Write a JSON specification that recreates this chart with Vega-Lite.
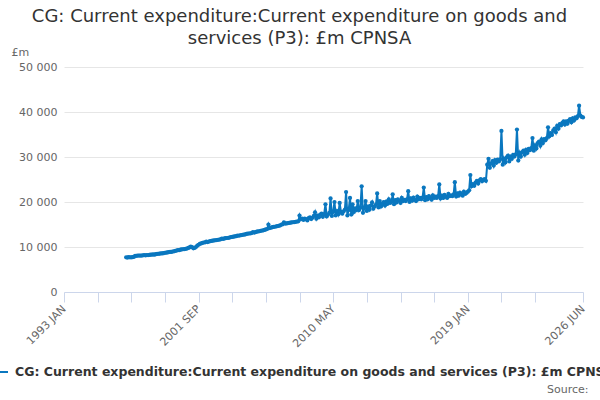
{
  "$schema": "https://vega.github.io/schema/vega-lite/v6.json",
  "description": "CG: Current expenditure on goods and services (P3), £m CPNSA, monthly",
  "autosize": {"type": "none"},
  "width": 519,
  "height": 225,
  "padding": {"left": 64, "top": 67, "right": 17, "bottom": 108},
  "title": {
    "text": ["CG: Current expenditure:Current expenditure on goods and", "services (P3): £m CPNSA"],
    "font": "DejaVu Sans",
    "fontSize": 18,
    "fontWeight": "normal",
    "color": "#333333",
    "anchor": "middle",
    "dx": -24,
    "dy": 6,
    "lineHeight": 22
  },
  "data": {
    "values": [
      {"d": "1997-01", "v": 7700}, {"d": "1997-02", "v": 7650}, {"d": "1997-03", "v": 7750}, {"d": "1997-04", "v": 7700},
      {"d": "1997-05", "v": 7700}, {"d": "1997-06", "v": 7750}, {"d": "1997-07", "v": 7800}, {"d": "1997-08", "v": 8050},
      {"d": "1997-09", "v": 8050}, {"d": "1997-10", "v": 8100}, {"d": "1997-11", "v": 8100}, {"d": "1997-12", "v": 8100},
      {"d": "1998-01", "v": 8100}, {"d": "1998-02", "v": 8150}, {"d": "1998-03", "v": 8200}, {"d": "1998-04", "v": 8150},
      {"d": "1998-05", "v": 8200}, {"d": "1998-06", "v": 8200}, {"d": "1998-07", "v": 8250}, {"d": "1998-08", "v": 8300},
      {"d": "1998-09", "v": 8300}, {"d": "1998-10", "v": 8350}, {"d": "1998-11", "v": 8300}, {"d": "1998-12", "v": 8400},
      {"d": "1999-01", "v": 8450}, {"d": "1999-02", "v": 8500}, {"d": "1999-03", "v": 8550}, {"d": "1999-04", "v": 8600},
      {"d": "1999-05", "v": 8600}, {"d": "1999-06", "v": 8650}, {"d": "1999-07", "v": 8700}, {"d": "1999-08", "v": 8750},
      {"d": "1999-09", "v": 8800}, {"d": "1999-10", "v": 8850}, {"d": "1999-11", "v": 8900}, {"d": "1999-12", "v": 8900},
      {"d": "2000-01", "v": 9000}, {"d": "2000-02", "v": 9050}, {"d": "2000-03", "v": 9150}, {"d": "2000-04", "v": 9200},
      {"d": "2000-05", "v": 9300}, {"d": "2000-06", "v": 9300}, {"d": "2000-07", "v": 9400}, {"d": "2000-08", "v": 9450},
      {"d": "2000-09", "v": 9500}, {"d": "2000-10", "v": 9550}, {"d": "2000-11", "v": 9600}, {"d": "2000-12", "v": 9650},
      {"d": "2001-01", "v": 9800}, {"d": "2001-02", "v": 9900}, {"d": "2001-03", "v": 10100}, {"d": "2001-04", "v": 9950},
      {"d": "2001-05", "v": 9700}, {"d": "2001-06", "v": 9800}, {"d": "2001-07", "v": 10000}, {"d": "2001-08", "v": 10300},
      {"d": "2001-09", "v": 10500}, {"d": "2001-10", "v": 10700}, {"d": "2001-11", "v": 10800}, {"d": "2001-12", "v": 10900},
      {"d": "2002-01", "v": 11000}, {"d": "2002-02", "v": 11050}, {"d": "2002-03", "v": 11200}, {"d": "2002-04", "v": 11100},
      {"d": "2002-05", "v": 11200}, {"d": "2002-06", "v": 11300}, {"d": "2002-07", "v": 11350}, {"d": "2002-08", "v": 11400},
      {"d": "2002-09", "v": 11450}, {"d": "2002-10", "v": 11500}, {"d": "2002-11", "v": 11550}, {"d": "2002-12", "v": 11600},
      {"d": "2003-01", "v": 11650}, {"d": "2003-02", "v": 11700}, {"d": "2003-03", "v": 11850}, {"d": "2003-04", "v": 11800},
      {"d": "2003-05", "v": 11900}, {"d": "2003-06", "v": 11950}, {"d": "2003-07", "v": 12000}, {"d": "2003-08", "v": 12050},
      {"d": "2003-09", "v": 12100}, {"d": "2003-10", "v": 12200}, {"d": "2003-11", "v": 12250}, {"d": "2003-12", "v": 12300},
      {"d": "2004-01", "v": 12350}, {"d": "2004-02", "v": 12400}, {"d": "2004-03", "v": 12550}, {"d": "2004-04", "v": 12500},
      {"d": "2004-05", "v": 12600}, {"d": "2004-06", "v": 12650}, {"d": "2004-07", "v": 12700}, {"d": "2004-08", "v": 12750},
      {"d": "2004-09", "v": 12800}, {"d": "2004-10", "v": 12900}, {"d": "2004-11", "v": 12950}, {"d": "2004-12", "v": 13000},
      {"d": "2005-01", "v": 13050}, {"d": "2005-02", "v": 13100}, {"d": "2005-03", "v": 13300}, {"d": "2005-04", "v": 13200},
      {"d": "2005-05", "v": 13300}, {"d": "2005-06", "v": 13400}, {"d": "2005-07", "v": 13450}, {"d": "2005-08", "v": 13500},
      {"d": "2005-09", "v": 13600}, {"d": "2005-10", "v": 13650}, {"d": "2005-11", "v": 13700}, {"d": "2005-12", "v": 13800},
      {"d": "2006-01", "v": 13900}, {"d": "2006-02", "v": 14000}, {"d": "2006-03", "v": 15000}, {"d": "2006-04", "v": 14200},
      {"d": "2006-05", "v": 14300}, {"d": "2006-06", "v": 14400}, {"d": "2006-07", "v": 14450}, {"d": "2006-08", "v": 14500},
      {"d": "2006-09", "v": 14600}, {"d": "2006-10", "v": 14650}, {"d": "2006-11", "v": 14700}, {"d": "2006-12", "v": 14800},
      {"d": "2007-01", "v": 15000}, {"d": "2007-02", "v": 15050}, {"d": "2007-03", "v": 15500}, {"d": "2007-04", "v": 15200},
      {"d": "2007-05", "v": 15250}, {"d": "2007-06", "v": 15300}, {"d": "2007-07", "v": 15350}, {"d": "2007-08", "v": 15400},
      {"d": "2007-09", "v": 15450}, {"d": "2007-10", "v": 15500}, {"d": "2007-11", "v": 15550}, {"d": "2007-12", "v": 15600},
      {"d": "2008-01", "v": 15650}, {"d": "2008-02", "v": 15700}, {"d": "2008-03", "v": 17000}, {"d": "2008-04", "v": 16200},
      {"d": "2008-05", "v": 16300}, {"d": "2008-06", "v": 16000}, {"d": "2008-07", "v": 16300}, {"d": "2008-08", "v": 16200},
      {"d": "2008-09", "v": 15900}, {"d": "2008-10", "v": 16400}, {"d": "2008-11", "v": 16600}, {"d": "2008-12", "v": 16200},
      {"d": "2009-01", "v": 16500}, {"d": "2009-02", "v": 16900}, {"d": "2009-03", "v": 17700}, {"d": "2009-04", "v": 16300},
      {"d": "2009-05", "v": 17000}, {"d": "2009-06", "v": 16600}, {"d": "2009-07", "v": 17200}, {"d": "2009-08", "v": 17400},
      {"d": "2009-09", "v": 16700}, {"d": "2009-10", "v": 17300}, {"d": "2009-11", "v": 19500}, {"d": "2009-12", "v": 16800},
      {"d": "2010-01", "v": 17200}, {"d": "2010-02", "v": 17600}, {"d": "2010-03", "v": 20800}, {"d": "2010-04", "v": 16900},
      {"d": "2010-05", "v": 17800}, {"d": "2010-06", "v": 20000}, {"d": "2010-07", "v": 17000}, {"d": "2010-08", "v": 18000},
      {"d": "2010-09", "v": 17300}, {"d": "2010-10", "v": 19800}, {"d": "2010-11", "v": 17800}, {"d": "2010-12", "v": 17400},
      {"d": "2011-01", "v": 17900}, {"d": "2011-02", "v": 18300}, {"d": "2011-03", "v": 22200}, {"d": "2011-04", "v": 17000},
      {"d": "2011-05", "v": 18200}, {"d": "2011-06", "v": 20900}, {"d": "2011-07", "v": 17200}, {"d": "2011-08", "v": 19500},
      {"d": "2011-09", "v": 17800}, {"d": "2011-10", "v": 18600}, {"d": "2011-11", "v": 18200}, {"d": "2011-12", "v": 20200},
      {"d": "2012-01", "v": 18200}, {"d": "2012-02", "v": 18700}, {"d": "2012-03", "v": 23500}, {"d": "2012-04", "v": 17600},
      {"d": "2012-05", "v": 18600}, {"d": "2012-06", "v": 20200}, {"d": "2012-07", "v": 18000}, {"d": "2012-08", "v": 19000},
      {"d": "2012-09", "v": 18300}, {"d": "2012-10", "v": 19200}, {"d": "2012-11", "v": 19900}, {"d": "2012-12", "v": 18500},
      {"d": "2013-01", "v": 19000}, {"d": "2013-02", "v": 19400}, {"d": "2013-03", "v": 21900}, {"d": "2013-04", "v": 18800},
      {"d": "2013-05", "v": 20200}, {"d": "2013-06", "v": 19000}, {"d": "2013-07", "v": 19600}, {"d": "2013-08", "v": 20000},
      {"d": "2013-09", "v": 19200}, {"d": "2013-10", "v": 20100}, {"d": "2013-11", "v": 19600}, {"d": "2013-12", "v": 20600},
      {"d": "2014-01", "v": 19800}, {"d": "2014-02", "v": 20100}, {"d": "2014-03", "v": 21700}, {"d": "2014-04", "v": 19500},
      {"d": "2014-05", "v": 20400}, {"d": "2014-06", "v": 19900}, {"d": "2014-07", "v": 20600}, {"d": "2014-08", "v": 20300},
      {"d": "2014-09", "v": 19800}, {"d": "2014-10", "v": 20900}, {"d": "2014-11", "v": 20200}, {"d": "2014-12", "v": 20500},
      {"d": "2015-01", "v": 20200}, {"d": "2015-02", "v": 20600}, {"d": "2015-03", "v": 22400}, {"d": "2015-04", "v": 20000},
      {"d": "2015-05", "v": 20800}, {"d": "2015-06", "v": 20300}, {"d": "2015-07", "v": 21000}, {"d": "2015-08", "v": 20500},
      {"d": "2015-09", "v": 20200}, {"d": "2015-10", "v": 21200}, {"d": "2015-11", "v": 20600}, {"d": "2015-12", "v": 20900},
      {"d": "2016-01", "v": 20600}, {"d": "2016-02", "v": 21000}, {"d": "2016-03", "v": 23200}, {"d": "2016-04", "v": 20400},
      {"d": "2016-05", "v": 21100}, {"d": "2016-06", "v": 20600}, {"d": "2016-07", "v": 21300}, {"d": "2016-08", "v": 20900},
      {"d": "2016-09", "v": 20500}, {"d": "2016-10", "v": 21500}, {"d": "2016-11", "v": 20900}, {"d": "2016-12", "v": 21200},
      {"d": "2017-01", "v": 20900}, {"d": "2017-02", "v": 21300}, {"d": "2017-03", "v": 23900}, {"d": "2017-04", "v": 20800},
      {"d": "2017-05", "v": 21400}, {"d": "2017-06", "v": 20900}, {"d": "2017-07", "v": 21600}, {"d": "2017-08", "v": 21200},
      {"d": "2017-09", "v": 20900}, {"d": "2017-10", "v": 21800}, {"d": "2017-11", "v": 21300}, {"d": "2017-12", "v": 21500},
      {"d": "2018-01", "v": 21300}, {"d": "2018-02", "v": 21700}, {"d": "2018-03", "v": 24400}, {"d": "2018-04", "v": 21200},
      {"d": "2018-05", "v": 21900}, {"d": "2018-06", "v": 21400}, {"d": "2018-07", "v": 22100}, {"d": "2018-08", "v": 21700},
      {"d": "2018-09", "v": 21400}, {"d": "2018-10", "v": 22300}, {"d": "2018-11", "v": 21800}, {"d": "2018-12", "v": 22000},
      {"d": "2019-01", "v": 22300}, {"d": "2019-02", "v": 22600}, {"d": "2019-03", "v": 26000}, {"d": "2019-04", "v": 23500},
      {"d": "2019-05", "v": 24000}, {"d": "2019-06", "v": 23600}, {"d": "2019-07", "v": 24300}, {"d": "2019-08", "v": 24700},
      {"d": "2019-09", "v": 24100}, {"d": "2019-10", "v": 24800}, {"d": "2019-11", "v": 25100}, {"d": "2019-12", "v": 24600},
      {"d": "2020-01", "v": 24900}, {"d": "2020-02", "v": 25100}, {"d": "2020-03", "v": 24700}, {"d": "2020-04", "v": 28300},
      {"d": "2020-05", "v": 29600}, {"d": "2020-06", "v": 27600}, {"d": "2020-07", "v": 28600}, {"d": "2020-08", "v": 29100},
      {"d": "2020-09", "v": 28100}, {"d": "2020-10", "v": 29300}, {"d": "2020-11", "v": 28700}, {"d": "2020-12", "v": 29400},
      {"d": "2021-01", "v": 29000}, {"d": "2021-02", "v": 29500}, {"d": "2021-03", "v": 35800}, {"d": "2021-04", "v": 28300},
      {"d": "2021-05", "v": 29600}, {"d": "2021-06", "v": 28800}, {"d": "2021-07", "v": 29900}, {"d": "2021-08", "v": 30300},
      {"d": "2021-09", "v": 29000}, {"d": "2021-10", "v": 30100}, {"d": "2021-11", "v": 29600}, {"d": "2021-12", "v": 30500},
      {"d": "2022-01", "v": 30100}, {"d": "2022-02", "v": 30600}, {"d": "2022-03", "v": 36100}, {"d": "2022-04", "v": 29200},
      {"d": "2022-05", "v": 30900}, {"d": "2022-06", "v": 30100}, {"d": "2022-07", "v": 31100}, {"d": "2022-08", "v": 31400},
      {"d": "2022-09", "v": 30500}, {"d": "2022-10", "v": 31600}, {"d": "2022-11", "v": 30900}, {"d": "2022-12", "v": 31800},
      {"d": "2023-01", "v": 31500}, {"d": "2023-02", "v": 32000}, {"d": "2023-03", "v": 34200}, {"d": "2023-04", "v": 31400},
      {"d": "2023-05", "v": 32600}, {"d": "2023-06", "v": 31900}, {"d": "2023-07", "v": 33100}, {"d": "2023-08", "v": 33400},
      {"d": "2023-09", "v": 32500}, {"d": "2023-10", "v": 33900}, {"d": "2023-11", "v": 33100}, {"d": "2023-12", "v": 34000},
      {"d": "2024-01", "v": 33700}, {"d": "2024-02", "v": 34200}, {"d": "2024-03", "v": 36600}, {"d": "2024-04", "v": 34600},
      {"d": "2024-05", "v": 35300}, {"d": "2024-06", "v": 34900}, {"d": "2024-07", "v": 35900}, {"d": "2024-08", "v": 36300},
      {"d": "2024-09", "v": 35500}, {"d": "2024-10", "v": 36900}, {"d": "2024-11", "v": 36300}, {"d": "2024-12", "v": 37300},
      {"d": "2025-01", "v": 37000}, {"d": "2025-02", "v": 37600}, {"d": "2025-03", "v": 37900}, {"d": "2025-04", "v": 37200},
      {"d": "2025-05", "v": 37900}, {"d": "2025-06", "v": 37400}, {"d": "2025-07", "v": 38100}, {"d": "2025-08", "v": 38400},
      {"d": "2025-09", "v": 37700}, {"d": "2025-10", "v": 38600}, {"d": "2025-11", "v": 38100}, {"d": "2025-12", "v": 38800},
      {"d": "2026-01", "v": 38600}, {"d": "2026-02", "v": 39100}, {"d": "2026-03", "v": 41400}, {"d": "2026-04", "v": 39200},
      {"d": "2026-05", "v": 38900}, {"d": "2026-06", "v": 38800}
    ]
  },
  "mark": {
    "type": "line",
    "strokeWidth": 2,
    "point": {"filled": true, "size": 18}
  },
  "encoding": {
    "x": {
      "field": "d",
      "type": "temporal",
      "scale": {
        "type": "utc",
        "domain": [{"year": 1993, "month": 1, "date": 1, "utc": true}, {"year": 2026, "month": 6, "date": 1, "utc": true}]
      },
      "axis": {
        "values": [
          {"year": 1993, "month": 1, "date": 1, "utc": true},
          {"year": 1995, "month": 3, "date": 1, "utc": true},
          {"year": 1997, "month": 5, "date": 1, "utc": true},
          {"year": 1999, "month": 7, "date": 1, "utc": true},
          {"year": 2001, "month": 9, "date": 1, "utc": true},
          {"year": 2003, "month": 11, "date": 1, "utc": true},
          {"year": 2006, "month": 1, "date": 1, "utc": true},
          {"year": 2008, "month": 3, "date": 1, "utc": true},
          {"year": 2010, "month": 5, "date": 1, "utc": true},
          {"year": 2012, "month": 7, "date": 1, "utc": true},
          {"year": 2014, "month": 9, "date": 1, "utc": true},
          {"year": 2016, "month": 11, "date": 1, "utc": true},
          {"year": 2019, "month": 1, "date": 1, "utc": true},
          {"year": 2021, "month": 3, "date": 1, "utc": true},
          {"year": 2023, "month": 5, "date": 1, "utc": true},
          {"year": 2026, "month": 6, "date": 1, "utc": true}
        ],
        "labelExpr": "indexof(['1993-01', '2001-09', '2010-05', '2019-01', '2026-06'], utcFormat(datum.value, '%Y-%m')) >= 0 ? upper(utcFormat(datum.value, '%Y %b')) : ''",
        "labelAngle": -45,
        "labelAlign": "right",
        "labelBaseline": "middle",
        "labelPadding": 5,
        "labelFont": "DejaVu Sans",
        "labelFontSize": 11,
        "labelColor": "#666666",
        "labelOverlap": false,
        "labelBound": false,
        "labelFlush": false,
        "grid": false,
        "domainColor": "#ccd6eb",
        "tickColor": "#ccd6eb",
        "tickSize": 10,
        "title": "Source:",
        "titleFont": "DejaVu Sans",
        "titleFontSize": 11,
        "titleFontWeight": "normal",
        "titleColor": "#666666",
        "titleAlign": "right",
        "titleBaseline": "alphabetic",
        "titleAnchor": null,
        "titleX": 524,
        "titleY": 100
      }
    },
    "y": {
      "field": "v",
      "type": "quantitative",
      "scale": {"domain": [0, 50000], "nice": false},
      "axis": {
        "values": [0, 10000, 20000, 30000, 40000, 50000],
        "labelExpr": "datum.value == 0 ? '0' : format(datum.value / 1000, 'd') + ' 000'",
        "labelFont": "DejaVu Sans",
        "labelFontSize": 11,
        "labelColor": "#666666",
        "labelPadding": 7,
        "domain": false,
        "ticks": false,
        "gridColor": "#e6e6e6",
        "title": "£m",
        "titleFont": "DejaVu Sans",
        "titleFontSize": 11,
        "titleFontWeight": "normal",
        "titleColor": "#666666",
        "titleAngle": 0,
        "titleAlign": "left",
        "titleBaseline": "alphabetic",
        "titleAnchor": null,
        "titleX": -53,
        "titleY": -12
      }
    },
    "color": {
      "datum": "CG: Current expenditure:Current expenditure on goods and services (P3): £m CPNSA",
      "type": "nominal",
      "scale": {"range": ["#0a77bf"]},
      "legend": {
        "orient": "none",
        "legendX": -73,
        "legendY": 296,
        "title": null,
        "symbolType": "stroke",
        "symbolSize": 256,
        "symbolStrokeWidth": 2,
        "labelFont": "DejaVu Sans",
        "labelFontSize": 12.5,
        "labelFontWeight": "bold",
        "labelColor": "#333333",
        "labelLimit": 0,
        "labelOffset": 6
      }
    }
  },
  "config": {
    "view": {"stroke": null},
    "font": "DejaVu Sans"
  }
}
